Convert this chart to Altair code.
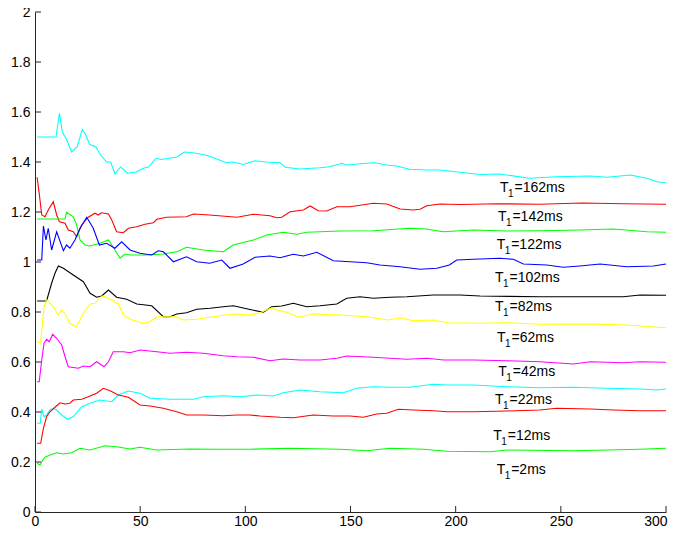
import altair as alt
import pandas as pd

# ---- data ----
series_names = ["162ms", "142ms", "122ms", "102ms", "82ms", "62ms", "42ms", "22ms", "12ms", "2ms"]
series_colors = ["#00ffff", "#ff0000", "#00ff00", "#0000ff", "#000000",
                 "#ffff00", "#ff00ff", "#00ffff", "#ff0000", "#00ff00"]

s162 = [(1,1.50),(10,1.50),(11.6,1.595),(13,1.52),(15,1.49),(17.4,1.44),(20,1.46),(22.5,1.53),(24,1.51),
        (26,1.47),(29,1.46),(31,1.43),(34,1.40),(36,1.40),(38,1.352),(40.7,1.38),(44,1.355),(48,1.36),
        (51.5,1.375),(54,1.38),(57.5,1.415),(60,1.41),(67.4,1.42),(71,1.44),(75,1.437),(80,1.43),(84,1.42),
        (91,1.397),(94,1.40),(99,1.39),(104.6,1.405),(110,1.40),(116.5,1.397),(119,1.379),(126,1.372),
        (135.5,1.377),(140,1.381),(146,1.395),(148,1.388),(157.7,1.395),(161.7,1.397),(167,1.388),(172,1.384),
        (178,1.371),(186,1.368),(192.6,1.368),(202,1.359),(211.6,1.35),(221,1.352),(235,1.335),(248,1.341),
        (264,1.344),(272,1.339),(283,1.348),(291,1.335),(295.6,1.321),(300,1.317)]
s142 = [(1,1.339),(2,1.275),(3.2,1.188),(4.75,1.181),(6.3,1.208),(8.7,1.241),(10.3,1.188),(11.6,1.161),
        (14.3,1.155),(15.8,1.128),(18.2,1.121),(19.8,1.101),(22.2,1.148),(25.3,1.179),(28.5,1.195),(30,1.188),
        (31.7,1.197),(34.9,1.192),(36.5,1.168),(38.8,1.121),(42,1.117),(44.4,1.135),(48.3,1.141),(52.3,1.151),
        (56.3,1.157),(57.9,1.171),(62.6,1.179),(72,1.181),(75.3,1.192),(83,1.188),(96,1.179),(103.8,1.191),
        (111.7,1.185),(115,1.177),(117.3,1.179),(121.3,1.201),(127.6,1.208),(130.8,1.224),(134.7,1.205),
        (138.7,1.204),(143.5,1.221),(149.8,1.221),(160.9,1.235),(167.2,1.232),(173.6,1.212),(179.9,1.208),
        (183,1.211),(186.3,1.225),(192.6,1.232),(202,1.230),(220,1.233),(240,1.231),(260,1.236),(280,1.233),
        (300,1.231)]
s122 = [(1,1.172),(14.3,1.172),(15,1.199),(18.2,1.181),(19.8,1.148),(21.4,1.088),(23.8,1.068),(26.2,1.064),
        (30.9,1.075),(34.9,1.088),(37.2,1.059),(40.4,1.015),(42.8,1.032),(45.2,1.028),(53,1.028),(61,1.032),
        (67.4,1.041),(72.1,1.059),(80,1.048),(89.5,1.041),(94.3,1.068),(97.5,1.075),(103.8,1.088),(110.2,1.108),
        (118,1.119),(124.4,1.111),(129.2,1.119),(145,1.124),(160.9,1.125),(178,1.135),(186,1.132),(194,1.121),
        (208.4,1.128),(224.3,1.124),(240,1.125),(259,1.128),(275,1.132),(291,1.121),(300,1.119)]
s102 = [(1,1.008),(3.2,1.008),(4,1.144),(5.2,1.088),(6.3,1.135),(7.9,1.048),(10.3,1.121),(13.5,1.045),
        (15,1.068),(16.6,1.055),(19,1.088),(21.4,1.135),(24.6,1.179),(27.7,1.135),(30.6,1.068),(34,1.075),
        (38,1.055),(41.2,1.081),(45.2,1.048),(49.9,1.035),(55.5,1.028),(58.6,1.045),(61,1.041),(65.8,1.001),
        (72,1.021),(76.9,1.001),(83,0.995),(88.8,1.008),(92.7,0.975),(99,0.992),(104.6,1.019),(111.7,1.024),
        (116.5,1.017),(122.8,1.031),(127.6,1.024),(134,1.039),(141.8,1.005),(149.8,1.001),(157.7,0.997),
        (164,0.988),(173.6,0.981),(183,0.971),(191,0.975),(197,0.988),(200.5,1.008),(208.4,1.011),(221,1.015),
        (227.4,1.011),(232.2,0.992),(243.3,0.988),(251.2,0.979),(259,0.984),(268.7,0.992),(281.3,0.981),
        (294,0.984),(300,0.992)]
s82 = [(1,0.844),(5.5,0.844),(7.9,0.915),(9.5,0.955),(11.1,0.984),(13.5,0.975),(18.2,0.948),(23,0.921),
       (26.2,0.875),(29.3,0.859),(31.7,0.864),(34.9,0.888),(38.8,0.859),(43.6,0.851),(48.4,0.832),(55.5,0.825),
       (61,0.781),(64.2,0.781),(67.4,0.792),(72,0.797),(76.9,0.811),(83.2,0.815),(89.5,0.821),(94.3,0.825),
       (102.2,0.810),(108.6,0.799),(112.5,0.821),(117.3,0.824),(122.8,0.835),(129.2,0.821),(135.5,0.825),
       (143.5,0.832),(148.2,0.855),(154.5,0.861),(160.9,0.855),(168.8,0.859),(176.8,0.861),(189.4,0.868),
       (202,0.868),(211.6,0.864),(240,0.861),(279.7,0.861),(287.7,0.868),(300,0.867)]
s62 = [(1,0.679),(2.7,0.679),(4.3,0.821),(5.5,0.848),(6.3,0.844),(8.7,0.821),(11.1,0.788),(12.7,0.808),
       (14.3,0.792),(16.6,0.755),(19.5,0.741),(21.4,0.768),(23,0.795),(26.2,0.832),(28.5,0.835),(31.7,0.864),
       (33.3,0.861),(37.2,0.845),(39.6,0.832),(42,0.788),(45.2,0.771),(51.5,0.755),(54.7,0.761),(57.9,0.781),
       (62.6,0.781),(67.4,0.781),(70.5,0.768),(76.9,0.771),(83.2,0.779),(94.3,0.792),(102.2,0.788),(107,0.797),
       (112.5,0.817),(115,0.808),(119.7,0.799),(125.2,0.779),(132.3,0.792),(145,0.788),(157.7,0.781),
       (168,0.768),(173.6,0.777),(179.9,0.765),(189.4,0.768),(195.8,0.757),(211.6,0.755),(224.3,0.757),
       (240,0.751),(264,0.752),(281,0.748),(300,0.737)]
s42 = [(1,0.521),(2,0.521),(3.2,0.608),(4.3,0.675),(5.5,0.691),(6.8,0.681),(8.4,0.711),(10.3,0.695),
       (12.7,0.668),(14.3,0.621),(15.8,0.581),(20.6,0.575),(23,0.584),(26.2,0.581),(29.3,0.601),(32.8,0.581),
       (34.9,0.601),(37.2,0.641),(42,0.641),(45.2,0.637),(50,0.648),(57.9,0.641),(64.2,0.635),(72,0.639),
       (80,0.635),(89.5,0.625),(96,0.621),(103.8,0.619),(111.7,0.605),(118,0.612),(126,0.608),(135.5,0.608),
       (143.5,0.615),(148.2,0.624),(160.9,0.619),(176.8,0.611),(186.3,0.615),(194.2,0.608),(208.4,0.608),
       (224.3,0.605),(240,0.601),(256,0.592),(264,0.601),(279.7,0.597),(287.7,0.601),(300,0.599)]
s22 = [(1,0.355),(2.5,0.355),(3.2,0.411),(4.3,0.381),(5.5,0.388),(7.1,0.408),(8.7,0.415),(10.3,0.408),
       (12.7,0.388),(15.4,0.371),(18.2,0.381),(22.2,0.421),(26.2,0.435),(30.9,0.448),(36.5,0.441),(39.6,0.468),
       (44.4,0.484),(49.9,0.475),(54.7,0.455),(64.2,0.451),(75.3,0.451),(80,0.461),(89.5,0.465),(97.5,0.461),
       (105.4,0.468),(113.3,0.464),(118,0.477),(126,0.488),(135.5,0.481),(146.6,0.477),(152.9,0.495),
       (160.9,0.501),(168.8,0.499),(178.3,0.499),(189.4,0.511),(195.8,0.508),(208.4,0.508),(224.3,0.501),
       (240,0.497),(256,0.499),(272,0.495),(287.7,0.492),(295.6,0.488),(300,0.492)]
s12 = [(1,0.275),(2.7,0.275),(4,0.335),(5.5,0.381),(7.1,0.401),(9.5,0.419),(11.9,0.437),(14.3,0.432),
       (16.6,0.435),(18.2,0.448),(22.2,0.451),(25.3,0.461),(29.3,0.475),(32.5,0.495),(35.7,0.485),(39.6,0.468),
       (44.4,0.459),(49.9,0.428),(54.7,0.424),(61,0.415),(67.4,0.401),(72.1,0.388),(80,0.388),(89.5,0.385),
       (96,0.388),(102.2,0.388),(107,0.384),(116.5,0.379),(122.8,0.377),(132.3,0.388),(141.8,0.384),
       (149.8,0.384),(156.1,0.379),(162.5,0.392),(167.2,0.395),(172.8,0.411),(179.9,0.408),(189.4,0.405),
       (195.8,0.401),(208.4,0.401),(224.3,0.404),(240,0.408),(248,0.415),(264,0.412),(275,0.408),
       (287.7,0.405),(300,0.405)]
s2 = [(1,0.195),(2.4,0.188),(3.7,0.208),(4.75,0.219),(7.1,0.228),(10.3,0.237),(13.5,0.232),(17.4,0.237),
      (21.4,0.255),(26.2,0.248),(33.3,0.265),(38.8,0.261),(45.2,0.252),(49.9,0.259),(57.9,0.248),(73.7,0.252),
      (86.4,0.251),(102.2,0.251),(121.3,0.255),(145,0.251),(157.7,0.245),(168.8,0.255),(184.7,0.251),
      (195.8,0.243),(216.4,0.241),(224.3,0.248),(256,0.245),(287.7,0.251),(300,0.255)]

series_points = [s162, s142, s122, s102, s82, s62, s42, s22, s12, s2]

label_x = [221.1, 220.1, 219.5, 218.7, 218.7, 219.7, 220.3, 218.7, 217.9, 219.5]
label_y = [1.296, 1.181, 1.068, 0.935, 0.821, 0.696, 0.561, 0.448, 0.305, 0.168]

x_ticks = [0, 50, 100, 150, 200, 250, 300]
y_ticks = [0, 0.2, 0.4, 0.6, 0.8, 1, 1.2, 1.4, 1.6, 1.8, 2]

# ---- tables ----
rows = []
for name, pts in zip(series_names, series_points):
    for i, (xv, yv) in enumerate(pts):
        rows.append({"series": name, "x": xv, "y": yv, "order": i})
df = pd.DataFrame(rows)
labels = pd.DataFrame({"series": series_names, "x": label_x, "y": label_y,
                       "rest": ["=" + s for s in series_names]})
xt = pd.DataFrame({"v": x_ticks})
yt = pd.DataFrame({"v": y_ticks})

W, H = 631, 500
FONT = "Liberation Sans"
AX = "#262626"

xscale = alt.Scale(domain=[0, 300], nice=False, zero=False)
yscale = alt.Scale(domain=[0, 2], nice=False, zero=False)

xaxis = alt.Axis(values=x_ticks, tickSize=0, labelPadding=13, labelBaseline="alphabetic",
                 domainColor=AX, labelColor="#000000",
                 labelFont=FONT, labelFontSize=14, grid=False, title=None, labelFlush=False,
                 labelAlign={"condition": {"test": "datum.value >= 300", "value": "right"},
                             "value": "center"},
                 labelOffset={"condition": {"test": "datum.value >= 300", "value": 1}, "value": 0})
yaxis = alt.Axis(values=y_ticks, tickSize=0, labelPadding=5, domainColor=AX, labelColor="#000000",
                 labelFont=FONT, labelFontSize=14, grid=False, title=None, labelFlush=False,
                 labelExpr="format(datum.value, '~g')")

lines = alt.Chart(df).mark_line(strokeWidth=1.1, interpolate="linear").encode(
    x=alt.X("x:Q", scale=xscale, axis=xaxis),
    y=alt.Y("y:Q", scale=yscale, axis=yaxis),
    color=alt.Color("series:N", scale=alt.Scale(domain=series_names, range=series_colors), legend=None),
    detail="series:N",
    order="order:Q",
)

ytick_marks = alt.Chart(yt).mark_rule(color=AX, strokeWidth=1).encode(
    y=alt.Y("v:Q", scale=yscale), x=alt.value(0), x2=alt.value(6))
xtick_marks = alt.Chart(xt).mark_rule(color=AX, strokeWidth=1).encode(
    x=alt.X("v:Q", scale=xscale), y=alt.value(H), y2=alt.value(H - 6))

t_main = alt.Chart(labels).mark_text(align="left", baseline="middle", font=FONT, fontSize=14,
                                     color="#000000").encode(
    x=alt.X("x:Q", scale=xscale), y=alt.Y("y:Q", scale=yscale), text=alt.value("T"))
t_sub = alt.Chart(labels).mark_text(align="left", baseline="middle", font=FONT, fontSize=10,
                                    color="#000000", dx=8, dy=6).encode(
    x=alt.X("x:Q", scale=xscale), y=alt.Y("y:Q", scale=yscale), text=alt.value("1"))
t_rest = alt.Chart(labels).mark_text(align="left", baseline="middle", font=FONT, fontSize=14,
                                     color="#000000", dx=14.5).encode(
    x=alt.X("x:Q", scale=xscale), y=alt.Y("y:Q", scale=yscale), text="rest:N")

chart = alt.layer(lines, ytick_marks, xtick_marks, t_main, t_sub, t_rest).properties(
    width=W, height=H,
    autosize=alt.AutoSizeParams(type="none"),
    padding={"left": 27, "top": 4, "right": 2, "bottom": 14},
    background="#ffffff",
).configure_view(stroke=None)

chart.save("out.html", embed_options={"renderer": "svg", "actions": False})
